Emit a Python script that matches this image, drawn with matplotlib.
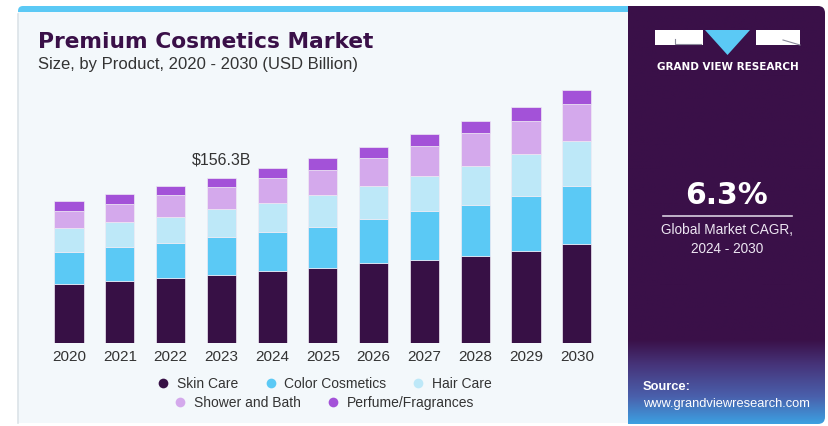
import numpy as np
import matplotlib
matplotlib.use("Agg")
import matplotlib.pyplot as plt
from matplotlib.patches import FancyBboxPatch, Rectangle, Polygon
from matplotlib.lines import Line2D

# ---------------- data ----------------
years = ["2020", "2021", "2022", "2023", "2024", "2025", "2026", "2027", "2028", "2029", "2030"]
series_names = ["Skin Care", "Color Cosmetics", "Hair Care", "Shower and Bath", "Perfume/Fragrances"]
skin_care = [55.9, 58.1, 61.0, 63.8, 67.6, 71.0, 75.4, 78.3, 81.8, 86.8, 93.2]
color_cosmetics = [30.0, 32.2, 33.7, 36.5, 37.2, 38.8, 41.9, 46.1, 48.3, 51.8, 55.2]
hair_care = [22.4, 24.0, 24.3, 26.2, 27.5, 30.3, 31.0, 33.1, 37.5, 39.8, 42.6]
shower_bath = [16.7, 17.0, 20.8, 20.5, 24.0, 23.7, 26.5, 29.0, 30.7, 31.8, 34.7]
perfume = [8.9, 9.8, 8.5, 9.3, 9.2, 11.4, 10.7, 11.1, 11.9, 13.0, 13.3]
highlight_year = "2023"
highlight_label = "$156.3B"
cagr_value = "6.3%"

colors = ["#371045", "#5BC9F5", "#BDE8F8", "#D4A9EC", "#A352D8"]
TXT = "#333333"
SANS = ["Liberation Sans", "DejaVu Sans"]

W, H = 829, 426
fig = plt.figure(figsize=(W / 100, H / 100), dpi=100)
fig.patch.set_facecolor("white")

# ---------------- background panels (pixel coords) ----------------
bg = fig.add_axes([0, 0, 1, 1], zorder=-10)
bg.set_xlim(0, W)
bg.set_ylim(H, 0)
bg.axis("off")

# right dark panel with gradient bottom
clip = FancyBboxPatch((600, 6), 225, 418, boxstyle="round,pad=0,rounding_size=7",
                      facecolor="none", edgecolor="none")
bg.add_patch(clip)
ys = np.linspace(6, 424, 400)
stops_y = [6, 340, 365, 397, 424]
stops_c = np.array([[58, 16, 72], [58, 16, 72], [70, 52, 122], [74, 96, 172], [60, 160, 225]]) / 255.0
grad = np.stack([np.interp(ys, stops_y, stops_c[:, k]) for k in range(3)], axis=-1)[:, None, :]
im = bg.imshow(grad, extent=(628, 825, 424, 6), aspect="auto", origin="upper", zorder=1)
im.set_clip_path(clip)

# left light panel with blue top strip
bg.add_patch(FancyBboxPatch((18, 6), 610, 40, boxstyle="round,pad=0,rounding_size=5",
                            facecolor="#5BC9F5", edgecolor="none", zorder=2))
bg.add_patch(Rectangle((24, 6), 604, 40, facecolor="#5BC9F5", edgecolor="none", zorder=2))
bg.add_patch(Rectangle((18, 12), 610, 411, facecolor="#F3F8FB", edgecolor="none", zorder=3))
bg.add_line(Line2D([18.5, 18.5], [14, 423], color="#DCE3E8", lw=1.2, zorder=4))

# logo
bg.add_patch(Rectangle((655, 30), 48, 15, facecolor="white", edgecolor="none", zorder=5))
bg.add_line(Line2D([675, 675, 701], [39, 43.5, 43.5], color="#8a8a9a", lw=0.8, zorder=6))
bg.add_patch(Polygon([(705, 30), (750, 30), (727.5, 55)], closed=True,
                     facecolor="#5BC9F5", edgecolor="none", zorder=5))
bg.add_patch(Rectangle((756, 30), 44, 15, facecolor="white", edgecolor="none", zorder=5))
bg.add_line(Line2D([783, 800], [40, 45], color="#8a8a9a", lw=0.8, zorder=6))
bg.text(727.5, 67, "GRAND VIEW RESEARCH", color="white", fontsize=7.5, fontweight="bold",
        family="DejaVu Sans", ha="center", va="center", zorder=6)

# CAGR block
bg.text(727, 204, cagr_value, color="white", fontsize=21.5, fontweight="bold",
        family="DejaVu Sans", ha="center", va="baseline", zorder=6)
bg.add_line(Line2D([663, 792], [216, 216], color="#D8CFE0", lw=1.2, zorder=6))
bg.text(727, 234, "Global Market CAGR,", color="#EDE6F2", fontsize=9.8, family=SANS,
        ha="center", va="baseline", zorder=6)
bg.text(727, 253, "2024 - 2030", color="#EDE6F2", fontsize=9.8, family=SANS,
        ha="center", va="baseline", zorder=6)

# source
bg.text(643, 390, "Source:", color="white", fontsize=9.3, fontweight="bold", family=SANS,
        ha="left", va="baseline", zorder=6)
bg.text(643, 407.5, "www.grandviewresearch.com", color="white", fontsize=9.3, family=SANS,
        ha="left", va="baseline", zorder=6)

# titles
bg.text(38, 48, "Premium Cosmetics Market", color="#3A1048", fontsize=15.7, fontweight="bold",
        family="DejaVu Sans", ha="left", va="baseline", zorder=6)
bg.text(38, 68.5, "Size, by Product, 2020 - 2030 (USD Billion)", color=TXT, fontsize=12,
        family=SANS, ha="left", va="baseline", zorder=6)

# ---------------- bar chart ----------------
ax = fig.add_axes([43.6 / W, 1 - 342.7 / H, 558.6 / W, 264.1 / H])
ax.set_facecolor("none")
x = np.arange(len(years))
series = [skin_care, color_cosmetics, hair_care, shower_bath, perfume]
bottom = np.zeros(len(years))
for vals, c, name in zip(series, colors, series_names):
    ax.bar(x, vals, width=0.575, bottom=bottom, color=c, edgecolor="#EFEAF4",
           linewidth=0.5, label=name, zorder=3)
    bottom = bottom + np.array(vals)
ax.set_xlim(-0.5, len(years) - 0.5)
ax.set_ylim(0, 250)
ax.set_xticks(x)
ax.set_xticklabels(years, fontsize=11, color=TXT, family=SANS)
ax.tick_params(axis="x", length=0, pad=5)
ax.set_yticks([])
for s in ax.spines.values():
    s.set_visible(False)

hi = years.index(highlight_year)
ax.annotate(highlight_label, (x[hi], bottom[hi]), xytext=(0, 7), textcoords="offset points",
            ha="center", va="bottom", fontsize=11.5, color=TXT, family=SANS)

# legends (two centered rows)
handles = [Line2D([], [], marker="o", linestyle="none", markersize=7, markerfacecolor=c,
                  markeredgecolor="none") for c in colors]
leg_kw = dict(frameon=False, loc="center", handlelength=0.8, handletextpad=0.6,
              columnspacing=1.9, borderpad=0, prop={"family": SANS, "size": 10},
              labelcolor=TXT)
leg1 = fig.legend(handles[:3], series_names[:3], ncol=3,
                  bbox_to_anchor=(325 / W, 1 - 384 / H), **leg_kw)
leg2 = fig.legend(handles[3:], series_names[3:], ncol=2,
                  bbox_to_anchor=(324 / W, 1 - 403 / H), **leg_kw)

fig.savefig("out.png", dpi=100, facecolor=fig.get_facecolor())
